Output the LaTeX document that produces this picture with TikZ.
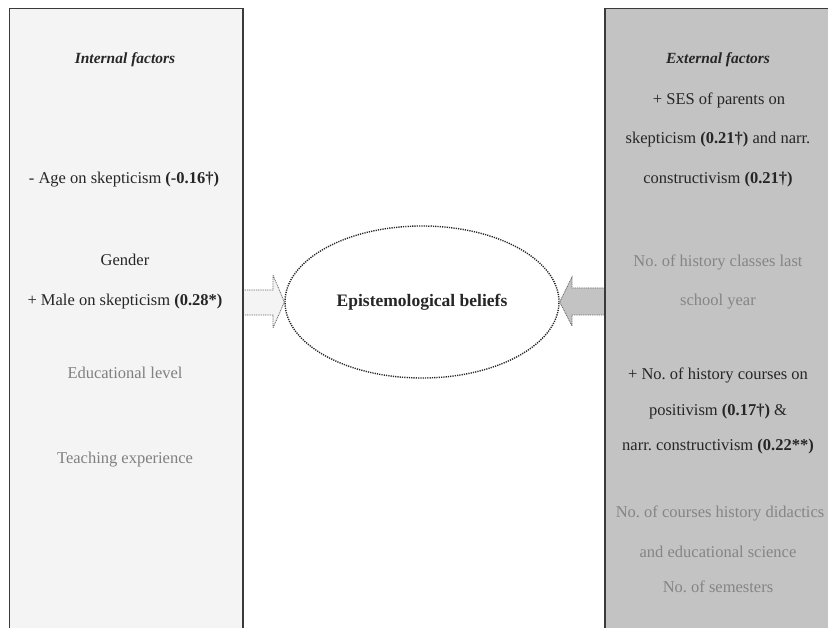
\documentclass[tikz,border=0pt]{standalone}
\usepackage{fontspec}
\setmainfont{Liberation Serif}
\usetikzlibrary{shapes.geometric,calc}
\definecolor{leftfill}{HTML}{F4F4F4}
\definecolor{rightfill}{HTML}{C3C3C3}
\definecolor{boxline}{HTML}{3A3A3A}
\definecolor{txt}{HTML}{262626}
\definecolor{faint}{HTML}{808080}
\definecolor{faintR}{HTML}{858585}
\definecolor{arrline}{HTML}{6A6A6A}
\frenchspacing
\begin{document}
\begin{tikzpicture}[x=1pt,y=-1pt,
  factorbox/.style={draw=boxline, line width=1.4pt, anchor=north west, inner sep=0pt},
  lbl/.style={font=\fontsize{16.5}{18}\selectfont, text=txt, inner sep=0pt, anchor=center},
  faintlbl/.style={lbl, text=faint},
  faintRlbl/.style={lbl, text=faintR},
  head/.style={font=\fontsize{15.5}{17}\selectfont\bfseries\itshape, text=txt, inner sep=0pt},
  beliefs/.style={ellipse, draw=txt, line width=1.4pt, dash pattern=on 1.2pt off 1.1pt, minimum width=274pt, minimum height=152pt, inner sep=0pt, font=\fontsize{17.5}{19}\selectfont\bfseries, text=txt},
  flowarrow/.style={draw=arrline, line width=0.8pt, dash pattern=on 1pt off 0.8pt}
]
\useasboundingbox (0,0) rectangle (828,628);
\clip (0,0) rectangle (828,628);
\fill[white] (0,0) rectangle (828,628);

% boxes
\node[factorbox, fill=leftfill, minimum width=233pt, minimum height=640pt] (left) at (9,8) {};
\node[factorbox, fill=rightfill, minimum width=240pt, minimum height=640pt] (right) at (605,8) {};

% ellipse
\node[beliefs] (ell) at (422,302) {Epistemological beliefs};

% arrows
\draw[flowarrow, fill=leftfill]
  ($(left.north east |- ell.center)+(0,-12)$) -- (273,290) -- (273,275) -- (ell.west) -- (273,328) -- (273,315) -- ($(left.north east |- ell.center)+(0,13)$);
\draw[flowarrow, fill=rightfill]
  ($(right.north west |- ell.center)+(0,-14)$) -- (572,288) -- (572,277) -- (ell.east) -- (572,326) -- (572,315) -- ($(right.north west |- ell.center)+(0,13)$);
\draw[boxline, line width=1.4pt] (left.north east) -- (left.south east);
\draw[boxline, line width=1.4pt] (right.north west) -- (right.south west);

% left texts
\node[head] (ih) at (125,60) {Internal factors};
\node[lbl] (age) at (124,180) {- Age on skepticism \textbf{(-0.16†)}};
\node[lbl] (gen) at (125,260) {Gender};
\node[lbl] (male) at (125,302) {+ Male on skepticism \textbf{(0.28*)}};
\node[faintlbl] (edu) at (125,373) {Educational level};
\node[faintlbl] (teach) at (125,460) {Teaching experience};

% right texts
\node[head] (eh) at (718,60) {External factors};
\node[lbl] (ses1) at (719,100) {+ SES of parents on};
\node[lbl] (ses2) at (718,140) {skepticism \textbf{(0.21†)} and narr.};
\node[lbl] (ses3) at (718,180) {constructivism \textbf{(0.21†)}};
\node[faintRlbl] (cls1) at (718,262) {No. of history classes last};
\node[faintRlbl] (cls2) at (718,302) {school year};
\node[lbl] (crs1) at (718,375) {+ No. of history courses on};
\node[lbl] (crs2) at (718,412) {positivism \textbf{(0.17†)} \&};
\node[lbl] (crs3) at (718,447) {narr. constructivism \textbf{(0.22**)}};
\node[faintRlbl] (did1) at (720,513) {No. of courses history didactics};
\node[faintRlbl] (did2) at (718,552) {and educational science};
\node[faintRlbl] (sem) at (718,587) {No. of semesters};
\end{tikzpicture}
\end{document}
